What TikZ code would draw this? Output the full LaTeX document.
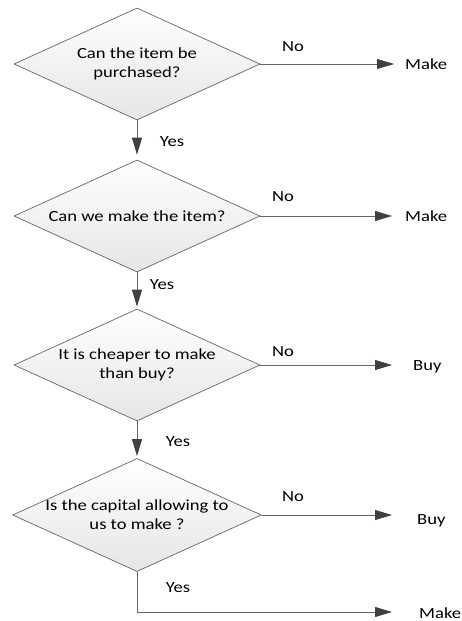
\documentclass[tikz,border=0pt]{standalone}
\usepackage{fontspec}
\setmainfont{Carlito}[FakeStretch=1.2]
\usetikzlibrary{shapes.geometric,arrows.meta}
\definecolor{edgegray}{HTML}{666666}
\definecolor{arrowgray}{HTML}{404040}
\tikzset{
    decision/.style={diamond, draw=edgegray, line width=0.7pt, top color=white, bottom color=gray!20,
        minimum width=246pt, minimum height=112pt, aspect=2.2, inner sep=0pt, align=center,
        font=\fontsize{15.5}{19}\selectfont},
    flow/.style={draw=edgegray, line width=0.8pt, -{Triangle[length=17pt,width=10pt,color=arrowgray]}},
    lbl/.style={font=\fontsize{15.5}{19}\selectfont, inner sep=1pt}
}
\begin{document}
\begin{tikzpicture}[x=1pt,y=-1pt]
    \useasboundingbox (0,0) rectangle (462,621);
    \node[decision] (q1) at (137,64) {Can the item be\\purchased?};
    \node[decision] (q2) at (137,216) {Can we make the item?};
    \node[decision] (q3) at (137,365) {It is cheaper to make\\than buy?};
    \node[decision] (q4) at (137,515) {Is the capital allowing to\\us to make ?};
    \coordinate (t1) at (394,64);
    \coordinate (t2) at (392,216);
    \coordinate (t3) at (392,365);
    \coordinate (t4) at (392,515);
    \coordinate (t5) at (392,612);
    \node[lbl, anchor=west] (r1) at (404,64) {Make};
    \node[lbl, anchor=west] (r2) at (404,216) {Make};
    \node[lbl, anchor=west] (r3) at (412,367) {Buy};
    \node[lbl, anchor=west] (r4) at (416,521) {Buy};
    \node[lbl, anchor=west] (r5) at (418,613) {Make};
    \draw[flow] (q1.east) -- (t1);
    \draw[flow] (q2.east) -- (t2);
    \draw[flow] (q3.east) -- (t3);
    \draw[flow] (q4.east) -- (t4);
    \draw[flow] (q4.south) |- (t5);
    \draw[flow, shorten >=5pt] (q1.south) -- (q2.north);
    \draw[flow, shorten >=2pt] (q2.south) -- (q3.north);
    \draw[flow, shorten >=2pt] (q3.south) -- (q4.north);
    \node[lbl] (n1) at (293,47) {No};
    \node[lbl] (n2) at (283,197) {No};
    \node[lbl] (n3) at (283,352) {No};
    \node[lbl] (n4) at (293,497) {No};
    \node[lbl] (y1) at (172,142) {Yes};
    \node[lbl] (y2) at (162,285) {Yes};
    \node[lbl] (y3) at (178,442) {Yes};
    \node[lbl] (y4) at (178,588) {Yes};
\end{tikzpicture}
\end{document}
